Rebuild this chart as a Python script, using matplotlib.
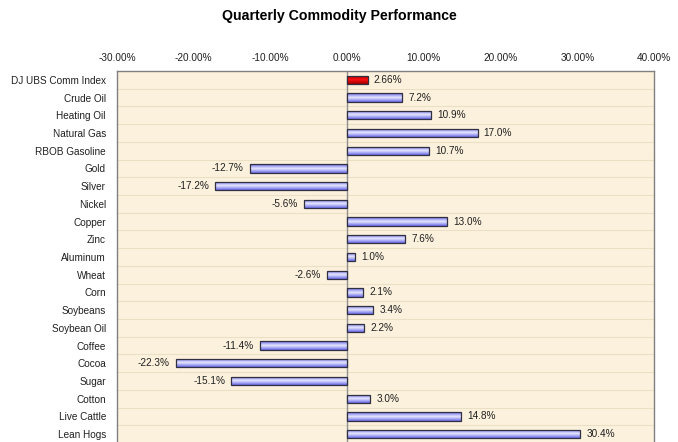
import numpy as np
import matplotlib
matplotlib.use("Agg")
from matplotlib import pyplot as plt
from matplotlib.colors import LinearSegmentedColormap

plt.rcParams["font.family"] = ["Liberation Sans", "DejaVu Sans"]

commodities = ["DJ UBS Comm Index", "Crude Oil", "Heating Oil", "Natural Gas",
               "RBOB Gasoline", "Gold", "Silver", "Nickel", "Copper", "Zinc",
               "Aluminum", "Wheat", "Corn", "Soybeans", "Soybean Oil", "Coffee",
               "Cocoa", "Sugar", "Cotton", "Live Cattle", "Lean Hogs"]
returns = [2.66, 7.2, 10.9, 17.0, 10.7, -12.7, -17.2, -5.6, 13.0, 7.6,
           1.0, -2.6, 2.1, 3.4, 2.2, -11.4, -22.3, -15.1, 3.0, 14.8, 30.4]
labels = ["2.66%"] + ["%.1f%%" % v for v in returns[1:]]
x_ticks = [-30, -20, -10, 0, 10, 20, 30, 40]

fig = plt.figure(figsize=(6.78, 4.42), dpi=100)
H = 442
ax = fig.add_axes([117 / 678, (H - 443) / H, 537 / 678, 372 / H])
ax.set_facecolor("#fbf1dd")

n = len(commodities)
y = np.arange(n)
bar_h = 0.46

# vertical gradient: dark edges, light middle
blue = LinearSegmentedColormap.from_list("b", ["#6868e8", "#e8e8ff", "#6868e8"])
red = LinearSegmentedColormap.from_list("r", ["#a00000", "#ff1010", "#a00000"])
grad = np.linspace(0, 1, 64).reshape(-1, 1)

bars = ax.barh(y, returns, height=bar_h, color="none", edgecolor="#303040",
               linewidth=0.9, zorder=3)
for i, b in enumerate(bars):
    x0, y0 = b.get_x(), b.get_y()
    w, h = b.get_width(), b.get_height()
    cm = red if i == 0 else blue
    im = ax.imshow(grad, cmap=cm, aspect="auto", zorder=2,
                   extent=[x0, x0 + w, y0 + h, y0], interpolation="bilinear")
    im.set_clip_path(b)

for yi, v, lab in zip(y, returns, labels):
    if v >= 0:
        ax.text(v + 0.8, yi, lab, va="center", ha="left", fontsize=7.2, color="#202020")
    else:
        ax.text(v - 0.8, yi, lab, va="center", ha="right", fontsize=7.2, color="#202020")

for k in range(n + 1):
    ax.axhline(k - 0.5, color="#ece0c4", linewidth=0.8, zorder=1)
ax.axvline(0, color="#909090", linewidth=1.0, zorder=1)

ax.set_xlim(-30, 40)
ax.set_ylim(n - 0.5, -0.5)
ax.set_xticks(x_ticks)
ax.set_xticklabels(["%.2f%%" % t for t in x_ticks])
ax.xaxis.tick_top()
ax.set_yticks(y)
ax.set_yticklabels(commodities)
ax.tick_params(axis="both", length=0, labelsize=7.2, colors="#202020")
ax.tick_params(axis="x", pad=6)
ax.tick_params(axis="y", pad=8)
for s in ax.spines.values():
    s.set_color("#808080")
    s.set_linewidth(1.0)

fig.text(0.5, 1 - 16 / H, "Quarterly Commodity Performance", ha="center",
         va="center", fontsize=10.2, fontweight="bold")

fig.savefig("out.png", dpi=100)
